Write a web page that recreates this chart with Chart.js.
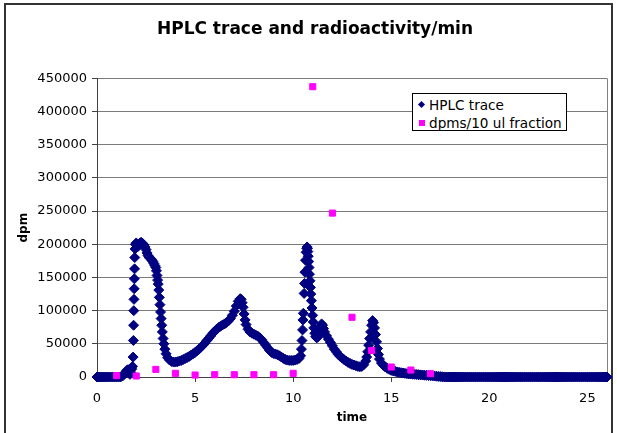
<!DOCTYPE html>
<html>
<head>
<meta charset="utf-8">
<script src="https://cdn.jsdelivr.net/npm/chart.js@4"></script>
<style>
html,body{margin:0;padding:0;background:#fff;}
#wrap{position:relative;width:617px;height:433px;overflow:hidden;}
#frame{position:absolute;left:4px;top:3px;width:609px;height:470px;border:2px solid #333;box-sizing:border-box;}
#chart{position:absolute;left:0;top:0;}
#legend{position:absolute;left:412px;top:93px;width:155px;height:38px;border:1px solid #000;background:#fff;box-sizing:border-box;font:13.6px "DejaVu Sans",sans-serif;color:#000;}
.item{position:absolute;left:0;height:16px;line-height:16px;white-space:nowrap;}
.item span.t{position:absolute;left:16px;top:0;}
.mk{position:absolute;}
</style>
</head>
<body>
<div id="wrap">
  <div id="frame"></div>
  <canvas id="chart" width="617" height="433"></canvas>
  <div id="legend"></div>
</div>
<script>
const chartTitle = 'HPLC trace and radioactivity/min';
const xTitle = 'time';
const yTitle = 'dpm';
const seriesNames = ['HPLC trace', 'dpms/10 ul fraction'];
const xTicks = [0, 5, 10, 15, 20, 25];
const yTicks = [0, 50000, 100000, 150000, 200000, 250000, 300000, 350000, 400000, 450000];

// HPLC trace readings: [time, dpm]
const hplcTrace = [
  [0,0],[0.1,0],[0.2,0],[0.3,0],[0.4,0],[0.5,0],[0.6,0],[0.7,0],[0.8,0],[0.9,0],[1.0,0],[1.1,0],[1.2,0],
  [1.3,1500],[1.38,4000],[1.45,7000],[1.52,10000],[1.58,11000],[1.63,7000],[1.68,4000],[1.72,7000],[1.77,12000],[1.81,16000],
  [1.84,30000],[1.855,55000],[1.865,78000],[1.875,100000],[1.885,117000],[1.895,133000],[1.905,148000],[1.915,163000],[1.925,180000],[1.94,193000],[1.96,200000],
  [2.0,202000],[2.05,199000],[2.1,197000],[2.15,199000],[2.2,202000],[2.25,203000],[2.3,202000],[2.35,200000],[2.4,199000],[2.45,196000],
  [2.5,192000],[2.55,187000],[2.6,183000],[2.65,181000],[2.7,179000],[2.75,178000],[2.8,176000],[2.85,174000],[2.9,171000],[2.95,168000],
  [3.0,165000],[3.03,160000],[3.06,153000],[3.09,146000],[3.12,140000],[3.15,131000],[3.18,120000],[3.21,109000],[3.24,98000],[3.27,88000],
  [3.3,78000],[3.33,68000],[3.37,58000],[3.41,50000],[3.46,42000],[3.52,35000],[3.6,29000],[3.7,25500],[3.8,23500],[3.9,22500],
  [4.0,22500],[4.1,23000],[4.2,24000],[4.3,25000],[4.4,26500],[4.5,28000],[4.6,29500],[4.7,31000],[4.8,33000],[4.9,35000],
  [5.0,37000],[5.1,39500],[5.2,42000],[5.3,45000],[5.4,48000],[5.5,51000],[5.6,55000],[5.7,58500],[5.8,62000],[5.9,66000],
  [6.0,69000],[6.1,72000],[6.2,74500],[6.3,76500],[6.4,78500],[6.5,80000],[6.6,82000],[6.7,84500],[6.8,88000],[6.9,93000],
  [7.0,99000],[7.1,107000],[7.2,114000],[7.3,118000],[7.35,117000],[7.4,112000],[7.45,105000],[7.5,95000],[7.55,86000],[7.6,79000],
  [7.7,72000],[7.8,68000],[7.9,66000],[8.0,64500],[8.1,63000],[8.2,61500],[8.3,59000],[8.4,56000],[8.5,52000],[8.6,48000],
  [8.7,44000],[8.8,40000],[8.9,37000],[9.0,35500],[9.1,34500],[9.2,33500],[9.3,32000],[9.4,30000],[9.5,28000],[9.6,26500],
  [9.7,25500],[9.8,25000],[9.9,25000],[10.0,25000],[10.1,25500],[10.2,26500],[10.3,28000],
  [10.38,32000],[10.42,42000],[10.45,55000],[10.48,71000],[10.5,86000],[10.52,96000],[10.56,126000],[10.58,141000],[10.6,158000],[10.63,176000],
  [10.66,188000],[10.69,194000],[10.71,196000],[10.73,194000],[10.75,189000],[10.77,182000],[10.79,174000],[10.81,165000],[10.83,155000],[10.86,145000],
  [10.88,135000],[10.9,125000],[10.93,115000],[10.96,104000],[10.99,93000],[11.02,83000],[11.05,74000],[11.1,66000],[11.15,61000],[11.2,59000],
  [11.25,60000],[11.3,64000],[11.35,71000],[11.4,77000],[11.45,80000],[11.5,78000],[11.55,73000],[11.6,68000],[11.7,62000],[11.8,57000],
  [11.9,52000],[12.0,47000],[12.1,42000],[12.2,38000],[12.3,34000],[12.4,31000],[12.5,28500],[12.6,26000],[12.7,24000],[12.8,22000],
  [12.9,20500],[13.0,19000],[13.1,18000],[13.2,17000],[13.3,16000],[13.4,15500],[13.5,16000],[13.6,18500],[13.7,24000],[13.75,30000],
  [13.8,38000],[13.85,48000],[13.9,58000],[13.95,68000],[14.0,78000],[14.05,85000],[14.1,82000],[14.15,74000],[14.2,64000],[14.25,53000],
  [14.3,43000],[14.35,34000],[14.4,27000],[14.5,21000],[14.6,17500],[14.7,15000],[14.8,13000],[14.9,11500],
  [15.0,10000],[15.1,9200],[15.2,8500],[15.3,7700],[15.4,7000],[15.5,6500],[15.6,6000],[15.7,5500],[15.8,5000],[15.9,4700],
  [16.0,4500],[16.1,4200],[16.2,4000],[16.3,3700],[16.4,3500],[16.5,3200],[16.6,3000],[16.7,2700],[16.8,2500],[16.9,2200],
  [17.0,2000],[17.1,1700],[17.2,1500],[17.3,1200],[17.4,900],[17.5,600],[17.6,300],[17.7,100],
  [17.8,0],[17.9,0],[18.0,0],[18.1,0],[18.2,0],[18.3,0],[18.4,0],[18.5,0],[18.6,0],[18.7,0],[18.8,0],[18.9,0],
  [19.0,0],[19.1,0],[19.2,0],[19.3,0],[19.4,0],[19.5,0],[19.6,0],[19.7,0],[19.8,0],[19.9,0],
  [20.0,0],[20.1,0],[20.2,0],[20.3,0],[20.4,0],[20.5,0],[20.6,0],[20.7,0],[20.8,0],[20.9,0],
  [21.0,0],[21.1,0],[21.2,0],[21.3,0],[21.4,0],[21.5,0],[21.6,0],[21.7,0],[21.8,0],[21.9,0],
  [22.0,0],[22.1,0],[22.2,0],[22.3,0],[22.4,0],[22.5,0],[22.6,0],[22.7,0],[22.8,0],[22.9,0],
  [23.0,0],[23.1,0],[23.2,0],[23.3,0],[23.4,0],[23.5,0],[23.6,0],[23.7,0],[23.8,0],[23.9,0],
  [24.0,0],[24.1,0],[24.2,0],[24.3,0],[24.4,0],[24.5,0],[24.6,0],[24.7,0],[24.8,0],[24.9,0],
  [25.0,0],[25.1,0],[25.2,0],[25.3,0],[25.4,0],[25.5,0],[25.6,0],[25.7,0],[25.8,0],[25.9,0],[26.0,0]
];

// Radioactivity per fraction
const fractionTime = [1, 2, 3, 4, 5, 6, 7, 8, 9, 10, 11, 12, 13, 14, 15, 16, 17];
const fractionDpm = [2000, 1500, 11500, 5500, 3000, 3500, 3500, 3500, 3500, 5500, 437500, 247000, 90000, 40000, 15000, 10500, 5000];

const FONT = 'DejaVu Sans';
const navy = '#000080';
const magenta = '#FF00FF';

// HTML legend
(function buildLegend() {
  const lg = document.getElementById('legend');
  const rows = [
    {name: seriesNames[0], top: 3, mk: '<div class="mk" style="left:6px;top:5px;width:5px;height:5px;background:' + navy + ';transform:rotate(45deg);"></div>'},
    {name: seriesNames[1], top: 21, mk: '<div class="mk" style="left:6px;top:5px;width:6px;height:6px;background:' + magenta + ';"></div>'}
  ];
  rows.forEach(r => {
    const d = document.createElement('div');
    d.className = 'item';
    d.style.top = r.top + 'px';
    d.innerHTML = r.mk + '<span class="t">' + r.name + '</span>';
    lg.appendChild(d);
  });
})();

const plotFrame = {
  id: 'plotFrame',
  beforeDatasetsDraw(chart) {
    const a = chart.chartArea, c = chart.ctx;
    c.save();
    c.strokeStyle = '#808080';
    c.lineWidth = 1;
    c.beginPath();
    c.moveTo(Math.round(a.right) + 0.5, a.top);
    c.lineTo(Math.round(a.right) + 0.5, a.bottom);
    c.stroke();
    c.restore();
  }
};

new Chart(document.getElementById('chart').getContext('2d'), {
  type: 'scatter',
  data: {
    datasets: [
      {
        label: seriesNames[0],
        data: hplcTrace.map(p => ({x: p[0], y: p[1]})),
        pointStyle: 'rectRot',
        pointRadius: 5,
        backgroundColor: navy,
        borderColor: navy,
        borderWidth: 1,
        order: 2,
        clip: false
      },
      {
        label: seriesNames[1],
        data: fractionTime.map((t, i) => ({x: t, y: fractionDpm[i]})),
        pointStyle: 'rect',
        pointRadius: 4.3,
        backgroundColor: magenta,
        borderColor: magenta,
        borderWidth: 1,
        order: 1,
        clip: false
      }
    ]
  },
  options: {
    responsive: false,
    animation: false,
    events: [],
    layout: {padding: {left: 23, right: 10, top: 0, bottom: 0}},
    plugins: {
      legend: {display: false},
      tooltip: {enabled: false},
      title: {
        display: true,
        text: chartTitle,
        color: '#000',
        font: {family: FONT, size: 17, weight: 'bold'},
        padding: {top: 19, bottom: 39},
        lineHeight: 1.2
      }
    },
    scales: {
      x: {
        type: 'linear',
        min: 0,
        max: 26,
        afterBuildTicks: s => { s.ticks = xTicks.map(v => ({value: v})); },
        afterFit: s => { s.height = 56; },
        grid: {drawOnChartArea: false, drawTicks: true, tickLength: 5, color: '#404040', tickColor: '#404040'},
        border: {color: '#404040'},
        ticks: {color: '#000', font: {family: FONT, size: 13}, padding: 9, maxRotation: 0},
        title: {display: true, text: xTitle, color: '#000', font: {family: FONT, size: 12, weight: 'bold'}, padding: {top: 0, bottom: 8}}
      },
      y: {
        type: 'linear',
        min: 0,
        max: 450000,
        afterBuildTicks: s => { s.ticks = yTicks.map(v => ({value: v})); },
        afterFit: s => { s.width = 74; },
        grid: {color: '#7a7a7a', tickColor: '#404040', tickLength: 5},
        border: {color: '#404040'},
        ticks: {color: '#000', font: {family: FONT, size: 13}, padding: 5, callback: v => String(v)},
        title: {display: true, text: yTitle, color: '#000', font: {family: FONT, size: 12, weight: 'bold'}, padding: {top: -6, bottom: 0}}
      }
    }
  },
  plugins: [plotFrame]
});
</script>
</body>
</html>
